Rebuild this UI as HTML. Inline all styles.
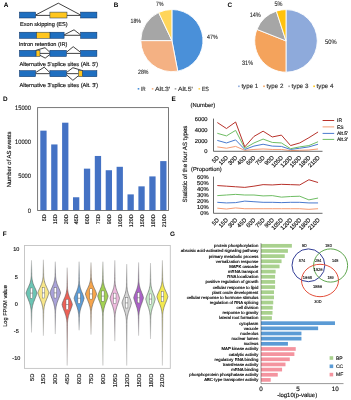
<!DOCTYPE html>
<html lang="en"><head><meta charset="utf-8"><title>Alternative splicing figure</title>
<style>
html,body{margin:0;padding:0;background:#fff;}
body{width:351px;height:400px;overflow:hidden;font-family:"Liberation Sans",sans-serif;}
svg{display:block;mix-blend-mode:multiply;}
svg text{font-family:"Liberation Sans",sans-serif;text-rendering:geometricPrecision;}
</style></head><body>
<svg width="351" height="400" viewBox="0 0 351 400">
<rect x="0" y="0" width="351" height="400" fill="#ffffff"/>
<g id="panelA">
<line x1="35.6" y1="15.4" x2="80.6" y2="15.4" stroke="#111" stroke-width="0.8"/>
<polyline points="35.6,15 58.3,3.2 80.6,15" fill="none" stroke="#111" stroke-width="0.8" stroke-linejoin="round"/>
<rect x="19.4" y="12.1" width="16.2" height="5.9" fill="#1f6fc0" stroke="#0d2f5e" stroke-width="0.5"/>
<rect x="49.9" y="12.1" width="17.1" height="5.9" fill="#ffc61e" stroke="#0d2f5e" stroke-width="0.5"/>
<rect x="80.6" y="12.1" width="16.3" height="5.9" fill="#1f6fc0" stroke="#0d2f5e" stroke-width="0.5"/>
<text x="20" y="26.2" font-size="5.6" text-anchor="start" font-weight="normal" fill="#111" stroke="#111" stroke-width="0.15">Exon skipping (ES)</text>
<line x1="64.1" y1="35.3" x2="80.6" y2="35.3" stroke="#111" stroke-width="0.8"/>
<polyline points="64.1,34.9 74,29.8 80.6,34.9" fill="none" stroke="#111" stroke-width="0.8" stroke-linejoin="round"/>
<rect x="19.4" y="32.2" width="17.1" height="6.2" fill="#1f6fc0" stroke="#0d2f5e" stroke-width="0.5"/>
<rect x="49.9" y="32.2" width="14.2" height="6.2" fill="#1f6fc0" stroke="#0d2f5e" stroke-width="0.5"/>
<rect x="36.5" y="32.2" width="13.4" height="6.2" fill="#ffc61e" stroke="#0d2f5e" stroke-width="0.5"/>
<rect x="80.6" y="32.2" width="16.3" height="6.2" fill="#1f6fc0" stroke="#0d2f5e" stroke-width="0.5"/>
<text x="18.8" y="46.3" font-size="5.6" text-anchor="start" font-weight="normal" fill="#111" stroke="#111" stroke-width="0.15">Intron retention (IR)</text>
<line x1="40" y1="53.4" x2="49.9" y2="53.4" stroke="#111" stroke-width="0.8"/>
<line x1="66.4" y1="53.4" x2="80.6" y2="53.4" stroke="#111" stroke-width="0.8"/>
<polyline points="36.1,50.3 45,47.7 49.9,52.3" fill="none" stroke="#111" stroke-width="0.8" stroke-linejoin="round"/>
<polyline points="40,55.3 45.2,58.1 49.9,54.5" fill="none" stroke="#111" stroke-width="0.8" stroke-linejoin="round"/>
<polyline points="66.4,52.3 73.2,46.7 80.6,52.3" fill="none" stroke="#111" stroke-width="0.8" stroke-linejoin="round"/>
<rect x="19.4" y="50.3" width="16.7" height="6.2" fill="#1f6fc0" stroke="#0d2f5e" stroke-width="0.5"/>
<rect x="36.1" y="50.3" width="3.9" height="6.2" fill="#ffc61e" stroke="#0d2f5e" stroke-width="0.5"/>
<rect x="49.9" y="50.3" width="16.5" height="6.2" fill="#1f6fc0" stroke="#0d2f5e" stroke-width="0.5"/>
<rect x="80.6" y="50.3" width="16.3" height="6.2" fill="#1f6fc0" stroke="#0d2f5e" stroke-width="0.5"/>
<text x="19.4" y="66.1" font-size="5.62" text-anchor="start" font-weight="normal" fill="#111" stroke="#111" stroke-width="0.15">Alternative 5'splice sites (Alt. 5')</text>
<line x1="35.6" y1="73.65" x2="49.9" y2="73.65" stroke="#111" stroke-width="0.8"/>
<line x1="66.4" y1="73.65" x2="78.5" y2="73.65" stroke="#111" stroke-width="0.8"/>
<polyline points="35.6,72.6 44.2,67.2 49.9,72.6" fill="none" stroke="#111" stroke-width="0.8" stroke-linejoin="round"/>
<polyline points="66.4,72.6 72.9,67.7 82.4,70.6" fill="none" stroke="#111" stroke-width="0.8" stroke-linejoin="round"/>
<polyline points="66.4,74.7 72.9,80.3 78.5,75.7" fill="none" stroke="#111" stroke-width="0.8" stroke-linejoin="round"/>
<rect x="19.4" y="70.6" width="16.2" height="6.1" fill="#1f6fc0" stroke="#0d2f5e" stroke-width="0.5"/>
<rect x="49.9" y="70.6" width="16.5" height="6.1" fill="#1f6fc0" stroke="#0d2f5e" stroke-width="0.5"/>
<rect x="82.4" y="70.6" width="14.5" height="6.1" fill="#1f6fc0" stroke="#0d2f5e" stroke-width="0.5"/>
<rect x="78.5" y="70.6" width="3.9" height="6.1" fill="#ffc61e" stroke="#0d2f5e" stroke-width="0.5"/>
<text x="19.4" y="86.9" font-size="5.62" text-anchor="start" font-weight="normal" fill="#111" stroke="#111" stroke-width="0.15">Alternative 3'splice sites (Alt. 3')</text>
</g>
<g id="panelB">
<path d="M171.9 40.6 L171.9 9.5 A31.1 31.1 0 0 1 177.73 71.15 Z" fill="#4a90d9" stroke="#fff" stroke-width="0.9" stroke-linejoin="round"/>
<path d="M171.9 40.6 L177.73 71.15 A31.1 31.1 0 0 1 140.8 40.6 Z" fill="#f4b183" stroke="#fff" stroke-width="0.9" stroke-linejoin="round"/>
<path d="M171.9 40.6 L140.8 40.6 A31.1 31.1 0 0 1 158.66 12.46 Z" fill="#a6a6a6" stroke="#fff" stroke-width="0.9" stroke-linejoin="round"/>
<path d="M171.9 40.6 L158.66 12.46 A31.1 31.1 0 0 1 171.9 9.5 Z" fill="#ffd55a" stroke="#fff" stroke-width="0.9" stroke-linejoin="round"/>
<text x="156.1" y="6.3" font-size="6.2" text-anchor="start" font-weight="normal" fill="#222" textLength="7.4" lengthAdjust="spacingAndGlyphs" stroke="#222" stroke-width="0.1">7%</text>
<text x="130.6" y="23.4" font-size="6.2" text-anchor="start" font-weight="normal" fill="#222" textLength="10.4" lengthAdjust="spacingAndGlyphs" stroke="#222" stroke-width="0.1">18%</text>
<text x="207" y="38.8" font-size="6.2" text-anchor="start" font-weight="normal" fill="#222" textLength="10.6" lengthAdjust="spacingAndGlyphs" stroke="#222" stroke-width="0.1">47%</text>
<text x="138" y="73.9" font-size="6.2" text-anchor="start" font-weight="normal" fill="#222" textLength="10.5" lengthAdjust="spacingAndGlyphs" stroke="#222" stroke-width="0.1">28%</text>
<rect x="137.7" y="88" width="1.6" height="1.6" fill="#4a90d9" stroke="none" stroke-width="0.5"/>
<text x="140.9" y="90.9" font-size="6" text-anchor="start" font-weight="normal" fill="#333" textLength="4.6" lengthAdjust="spacingAndGlyphs" stroke="#333" stroke-width="0.15">IR</text>
<rect x="151.8" y="88" width="1.6" height="1.6" fill="#f4b183" stroke="none" stroke-width="0.5"/>
<text x="155" y="90.9" font-size="6" text-anchor="start" font-weight="normal" fill="#333" textLength="15.2" lengthAdjust="spacingAndGlyphs" stroke="#333" stroke-width="0.15">Alt.3'</text>
<rect x="174.7" y="88" width="1.6" height="1.6" fill="#a6a6a6" stroke="none" stroke-width="0.5"/>
<text x="177.9" y="90.9" font-size="6" text-anchor="start" font-weight="normal" fill="#333" textLength="14.8" lengthAdjust="spacingAndGlyphs" stroke="#333" stroke-width="0.15">Alt.5'</text>
<rect x="198.5" y="88" width="1.6" height="1.6" fill="#ffd55a" stroke="none" stroke-width="0.5"/>
<text x="201.7" y="90.9" font-size="6" text-anchor="start" font-weight="normal" fill="#333" textLength="7.3" lengthAdjust="spacingAndGlyphs" stroke="#333" stroke-width="0.15">ES</text>
</g>
<g id="panelC">
<path d="M286 40.9 L286 9.6 A31.3 31.3 0 0 1 286 72.2 Z" fill="#8eaadb" stroke="#fff" stroke-width="0.9" stroke-linejoin="round"/>
<path d="M286 40.9 L286 72.2 A31.3 31.3 0 0 1 256.9 29.38 Z" fill="#f4a35c" stroke="#fff" stroke-width="0.9" stroke-linejoin="round"/>
<path d="M286 40.9 L256.9 29.38 A31.3 31.3 0 0 1 276.33 11.13 Z" fill="#a6a6a6" stroke="#fff" stroke-width="0.9" stroke-linejoin="round"/>
<path d="M286 40.9 L276.33 11.13 A31.3 31.3 0 0 1 286 9.6 Z" fill="#ffc20e" stroke="#fff" stroke-width="0.9" stroke-linejoin="round"/>
<text x="274.5" y="6.3" font-size="6.5" text-anchor="start" font-weight="normal" fill="#222" textLength="8" lengthAdjust="spacingAndGlyphs" stroke="#222" stroke-width="0.1">5%</text>
<text x="249.7" y="17.4" font-size="6.5" text-anchor="start" font-weight="normal" fill="#222" textLength="11.1" lengthAdjust="spacingAndGlyphs" stroke="#222" stroke-width="0.1">14%</text>
<text x="325.1" y="43.6" font-size="6.5" text-anchor="start" font-weight="normal" fill="#222" textLength="11.6" lengthAdjust="spacingAndGlyphs" stroke="#222" stroke-width="0.1">50%</text>
<text x="242" y="64.6" font-size="6.5" text-anchor="start" font-weight="normal" fill="#222" textLength="11.1" lengthAdjust="spacingAndGlyphs" stroke="#222" stroke-width="0.1">31%</text>
<rect x="238.1" y="85.5" width="1.6" height="1.6" fill="#8eaadb" stroke="none" stroke-width="0.5"/>
<text x="241.4" y="88.3" font-size="6.2" text-anchor="start" font-weight="normal" fill="#333" stroke="#333" stroke-width="0.15">type 1</text>
<rect x="263.2" y="85.5" width="1.6" height="1.6" fill="#f4a35c" stroke="none" stroke-width="0.5"/>
<text x="266.5" y="88.3" font-size="6.2" text-anchor="start" font-weight="normal" fill="#333" stroke="#333" stroke-width="0.15">type 2</text>
<rect x="288.3" y="85.5" width="1.6" height="1.6" fill="#a6a6a6" stroke="none" stroke-width="0.5"/>
<text x="291.6" y="88.3" font-size="6.2" text-anchor="start" font-weight="normal" fill="#333" stroke="#333" stroke-width="0.15">type 3</text>
<rect x="313.3" y="85.5" width="1.6" height="1.6" fill="#ffc20e" stroke="none" stroke-width="0.5"/>
<text x="316.6" y="88.3" font-size="6.2" text-anchor="start" font-weight="normal" fill="#333" stroke="#333" stroke-width="0.15">type 4</text>
</g>
<g id="panelD">
<rect x="40.3" y="130.65" width="6.3" height="79.85" fill="#4472c4" stroke="none" stroke-width="0.5"/>
<text x="45.75" y="214.4" font-size="5.4" text-anchor="end" font-weight="normal" fill="#111" transform="rotate(-90 45.75 214.4)" stroke="#111" stroke-width="0.15">5D</text>
<rect x="51.2" y="144.44" width="6.3" height="66.06" fill="#4472c4" stroke="none" stroke-width="0.5"/>
<text x="56.65" y="214.4" font-size="5.4" text-anchor="end" font-weight="normal" fill="#111" transform="rotate(-90 56.65 214.4)" stroke="#111" stroke-width="0.15">15D</text>
<rect x="62.1" y="122.69" width="6.3" height="87.81" fill="#4472c4" stroke="none" stroke-width="0.5"/>
<text x="67.55" y="214.4" font-size="5.4" text-anchor="end" font-weight="normal" fill="#111" transform="rotate(-90 67.55 214.4)" stroke="#111" stroke-width="0.15">30D</text>
<rect x="73" y="197.26" width="6.3" height="13.24" fill="#4472c4" stroke="none" stroke-width="0.5"/>
<text x="78.45" y="214.4" font-size="5.4" text-anchor="end" font-weight="normal" fill="#111" transform="rotate(-90 78.45 214.4)" stroke="#111" stroke-width="0.15">45D</text>
<rect x="83.9" y="168.65" width="6.3" height="41.85" fill="#4472c4" stroke="none" stroke-width="0.5"/>
<text x="89.35" y="214.4" font-size="5.4" text-anchor="end" font-weight="normal" fill="#111" transform="rotate(-90 89.35 214.4)" stroke="#111" stroke-width="0.15">60D</text>
<rect x="94.8" y="155.96" width="6.3" height="54.54" fill="#4472c4" stroke="none" stroke-width="0.5"/>
<text x="100.25" y="214.4" font-size="5.4" text-anchor="end" font-weight="normal" fill="#111" transform="rotate(-90 100.25 214.4)" stroke="#111" stroke-width="0.15">75D</text>
<rect x="105.7" y="170.23" width="6.3" height="40.27" fill="#4472c4" stroke="none" stroke-width="0.5"/>
<text x="111.15" y="214.4" font-size="5.4" text-anchor="end" font-weight="normal" fill="#111" transform="rotate(-90 111.15 214.4)" stroke="#111" stroke-width="0.15">90D</text>
<rect x="116.6" y="166.8" width="6.3" height="43.7" fill="#4472c4" stroke="none" stroke-width="0.5"/>
<text x="122.05" y="214.4" font-size="5.4" text-anchor="end" font-weight="normal" fill="#111" transform="rotate(-90 122.05 214.4)" stroke="#111" stroke-width="0.15">105D</text>
<rect x="127.5" y="194.38" width="6.3" height="16.12" fill="#4472c4" stroke="none" stroke-width="0.5"/>
<text x="132.95" y="214.4" font-size="5.4" text-anchor="end" font-weight="normal" fill="#111" transform="rotate(-90 132.95 214.4)" stroke="#111" stroke-width="0.15">120D</text>
<rect x="138.4" y="186.35" width="6.3" height="24.15" fill="#4472c4" stroke="none" stroke-width="0.5"/>
<text x="143.85" y="214.4" font-size="5.4" text-anchor="end" font-weight="normal" fill="#111" transform="rotate(-90 143.85 214.4)" stroke="#111" stroke-width="0.15">150D</text>
<rect x="149.3" y="176.41" width="6.3" height="34.09" fill="#4472c4" stroke="none" stroke-width="0.5"/>
<text x="154.75" y="214.4" font-size="5.4" text-anchor="end" font-weight="normal" fill="#111" transform="rotate(-90 154.75 214.4)" stroke="#111" stroke-width="0.15">180D</text>
<rect x="160.2" y="161.11" width="6.3" height="49.39" fill="#4472c4" stroke="none" stroke-width="0.5"/>
<text x="165.65" y="214.4" font-size="5.4" text-anchor="end" font-weight="normal" fill="#111" transform="rotate(-90 165.65 214.4)" stroke="#111" stroke-width="0.15">210D</text>
<rect x="37.6" y="107.6" width="130.9" height="102.9" fill="none" stroke="#6b6b6b" stroke-width="0.9"/>
<text x="27.8" y="212.75" font-size="6.4" text-anchor="start" font-weight="normal" fill="#111" textLength="3.2" lengthAdjust="spacingAndGlyphs" stroke="#111" stroke-width="0.1">0</text>
<text x="18.2" y="178.45" font-size="6.4" text-anchor="start" font-weight="normal" fill="#111" textLength="12.8" lengthAdjust="spacingAndGlyphs" stroke="#111" stroke-width="0.1">5000</text>
<text x="15" y="144.15" font-size="6.4" text-anchor="start" font-weight="normal" fill="#111" textLength="16" lengthAdjust="spacingAndGlyphs" stroke="#111" stroke-width="0.1">10000</text>
<text x="15" y="109.85" font-size="6.4" text-anchor="start" font-weight="normal" fill="#111" textLength="16" lengthAdjust="spacingAndGlyphs" stroke="#111" stroke-width="0.1">15000</text>
<text x="10.9" y="159.4" font-size="5.9" text-anchor="middle" font-weight="normal" fill="#111" transform="rotate(-90 10.9 159.4)" stroke="#111" stroke-width="0.15">Number of AS events</text>
</g>
<g id="panelE">
<text x="190.6" y="107.4" font-size="5.8" text-anchor="start" font-weight="normal" fill="#111" stroke="#111" stroke-width="0.15">(Number)</text>
<text x="207.6" y="153.35" font-size="5.8" text-anchor="end" font-weight="normal" fill="#111" stroke="#111" stroke-width="0.15">0</text>
<text x="207.6" y="142.73" font-size="5.8" text-anchor="end" font-weight="normal" fill="#111" stroke="#111" stroke-width="0.15">2000</text>
<text x="207.6" y="132.11" font-size="5.8" text-anchor="end" font-weight="normal" fill="#111" stroke="#111" stroke-width="0.15">4000</text>
<text x="207.6" y="121.49" font-size="5.8" text-anchor="end" font-weight="normal" fill="#111" stroke="#111" stroke-width="0.15">6000</text>
<polyline points="217.3,146.89 226.46,148.22 235.62,146.41 244.78,150.29 253.94,149.44 263.1,148.96 272.26,149.44 281.42,149.44 290.58,150.61 299.74,150.29 308.9,149.97 318.06,148.96" fill="none" stroke="#f59b73" stroke-width="1" stroke-linejoin="round"/>
<polyline points="217.3,140.41 226.46,142.96 235.62,139.88 244.78,149.44 253.94,146.1 263.1,144.24 272.26,146.1 281.42,146.41 290.58,149.44 299.74,148.22 308.9,146.89 318.06,144.24" fill="none" stroke="#4a7ace" stroke-width="1" stroke-linejoin="round"/>
<polyline points="217.3,133.3 226.46,135.9 235.62,130.38 244.78,148.22 253.94,142.96 263.1,139.09 272.26,142.43 281.42,142.96 290.58,148.7 299.74,146.89 308.9,145.57 318.06,141.74" fill="none" stroke="#6fbd64" stroke-width="1" stroke-linejoin="round"/>
<polyline points="217.3,122.52 226.46,128.52 235.62,121.99 244.78,146.89 253.94,136.43 263.1,131.18 272.26,136.96 281.42,135.1 290.58,145.57 299.74,142.96 308.9,137.71 318.06,131.97" fill="none" stroke="#b8322b" stroke-width="1" stroke-linejoin="round"/>
<line x1="213.5" y1="118.6" x2="213.5" y2="151.3" stroke="#4d4d4d" stroke-width="0.85"/>
<line x1="213.5" y1="151.3" x2="322.5" y2="151.3" stroke="#4d4d4d" stroke-width="0.85"/>
<text x="219.4" y="158" font-size="5.8" text-anchor="end" font-weight="normal" fill="#111" transform="rotate(-45 219.4 158)" stroke="#111" stroke-width="0.15">5D</text>
<text x="228.56" y="158" font-size="5.8" text-anchor="end" font-weight="normal" fill="#111" transform="rotate(-45 228.56 158)" stroke="#111" stroke-width="0.15">15D</text>
<text x="237.72" y="158" font-size="5.8" text-anchor="end" font-weight="normal" fill="#111" transform="rotate(-45 237.72 158)" stroke="#111" stroke-width="0.15">30D</text>
<text x="246.88" y="158" font-size="5.8" text-anchor="end" font-weight="normal" fill="#111" transform="rotate(-45 246.88 158)" stroke="#111" stroke-width="0.15">45D</text>
<text x="256.04" y="158" font-size="5.8" text-anchor="end" font-weight="normal" fill="#111" transform="rotate(-45 256.04 158)" stroke="#111" stroke-width="0.15">60D</text>
<text x="265.2" y="158" font-size="5.8" text-anchor="end" font-weight="normal" fill="#111" transform="rotate(-45 265.2 158)" stroke="#111" stroke-width="0.15">75D</text>
<text x="274.36" y="158" font-size="5.8" text-anchor="end" font-weight="normal" fill="#111" transform="rotate(-45 274.36 158)" stroke="#111" stroke-width="0.15">90D</text>
<text x="283.52" y="158" font-size="5.8" text-anchor="end" font-weight="normal" fill="#111" transform="rotate(-45 283.52 158)" stroke="#111" stroke-width="0.15">105D</text>
<text x="292.68" y="158" font-size="5.8" text-anchor="end" font-weight="normal" fill="#111" transform="rotate(-45 292.68 158)" stroke="#111" stroke-width="0.15">120D</text>
<text x="301.84" y="158" font-size="5.8" text-anchor="end" font-weight="normal" fill="#111" transform="rotate(-45 301.84 158)" stroke="#111" stroke-width="0.15">150D</text>
<text x="311" y="158" font-size="5.8" text-anchor="end" font-weight="normal" fill="#111" transform="rotate(-45 311 158)" stroke="#111" stroke-width="0.15">180D</text>
<text x="320.16" y="158" font-size="5.8" text-anchor="end" font-weight="normal" fill="#111" transform="rotate(-45 320.16 158)" stroke="#111" stroke-width="0.15">210D</text>
<line x1="322.6" y1="120.5" x2="334.2" y2="120.5" stroke="#b8322b" stroke-width="1"/>
<text x="337" y="122.25" font-size="5" text-anchor="start" font-weight="normal" fill="#111" stroke="#111" stroke-width="0.15">IR</text>
<line x1="322.6" y1="126.9" x2="334.2" y2="126.9" stroke="#f59b73" stroke-width="1"/>
<text x="337" y="128.65" font-size="5" text-anchor="start" font-weight="normal" fill="#111" stroke="#111" stroke-width="0.15">ES</text>
<line x1="322.6" y1="133.4" x2="334.2" y2="133.4" stroke="#4a7ace" stroke-width="1"/>
<text x="337" y="135.15" font-size="5" text-anchor="start" font-weight="normal" fill="#111" stroke="#111" stroke-width="0.15">Alt.5'</text>
<line x1="322.6" y1="139.4" x2="334.2" y2="139.4" stroke="#6fbd64" stroke-width="1"/>
<text x="337" y="141.15" font-size="5" text-anchor="start" font-weight="normal" fill="#111" stroke="#111" stroke-width="0.15">Alt.3'</text>
<text x="191" y="170.8" font-size="5.8" text-anchor="start" font-weight="normal" fill="#111" stroke="#111" stroke-width="0.15">(Proportion)</text>
<text x="208.7" y="215.35" font-size="5.8" text-anchor="end" font-weight="normal" fill="#111" stroke="#111" stroke-width="0.15">0%</text>
<text x="208.7" y="209.25" font-size="5.8" text-anchor="end" font-weight="normal" fill="#111" stroke="#111" stroke-width="0.15">10%</text>
<text x="208.7" y="203.15" font-size="5.8" text-anchor="end" font-weight="normal" fill="#111" stroke="#111" stroke-width="0.15">20%</text>
<text x="208.7" y="197.05" font-size="5.8" text-anchor="end" font-weight="normal" fill="#111" stroke="#111" stroke-width="0.15">30%</text>
<text x="208.7" y="190.95" font-size="5.8" text-anchor="end" font-weight="normal" fill="#111" stroke="#111" stroke-width="0.15">40%</text>
<text x="208.7" y="184.85" font-size="5.8" text-anchor="end" font-weight="normal" fill="#111" stroke="#111" stroke-width="0.15">50%</text>
<text x="208.7" y="178.75" font-size="5.8" text-anchor="end" font-weight="normal" fill="#111" stroke="#111" stroke-width="0.15">60%</text>
<polyline points="217.3,208.18 226.46,209.03 235.62,207.93 244.78,208.73 253.94,208.73 263.1,208.73 272.26,208.73 281.42,208.73 290.58,208.73 299.74,208.73 308.9,209.34 318.06,208.73" fill="none" stroke="#f59b73" stroke-width="1" stroke-linejoin="round"/>
<polyline points="217.3,202.32 226.46,202.93 235.62,202.62 244.78,201.1 253.94,201.71 263.1,202.32 272.26,202.32 281.42,202.62 290.58,202.32 299.74,202.32 308.9,202.93 318.06,202.93" fill="none" stroke="#4a7ace" stroke-width="1" stroke-linejoin="round"/>
<polyline points="217.3,195.61 226.46,195 235.62,194.39 244.78,195 253.94,195 263.1,195.92 272.26,195.61 281.42,197.14 290.58,196.53 299.74,196.22 308.9,199.88 318.06,198.05" fill="none" stroke="#6fbd64" stroke-width="1" stroke-linejoin="round"/>
<polyline points="217.3,185.55 226.46,186.16 235.62,186.77 244.78,187.38 253.94,186.16 263.1,184.63 272.26,184.94 281.42,184.33 290.58,184.63 299.74,184.94 308.9,179.75 318.06,182.5" fill="none" stroke="#b8322b" stroke-width="1" stroke-linejoin="round"/>
<line x1="213.5" y1="176.6" x2="213.5" y2="213.3" stroke="#4d4d4d" stroke-width="0.85"/>
<line x1="213.5" y1="213.3" x2="322.5" y2="213.3" stroke="#4d4d4d" stroke-width="0.85"/>
<text x="219.4" y="220.4" font-size="5.8" text-anchor="end" font-weight="normal" fill="#111" transform="rotate(-45 219.4 220.4)" stroke="#111" stroke-width="0.15">5D</text>
<text x="228.56" y="220.4" font-size="5.8" text-anchor="end" font-weight="normal" fill="#111" transform="rotate(-45 228.56 220.4)" stroke="#111" stroke-width="0.15">15D</text>
<text x="237.72" y="220.4" font-size="5.8" text-anchor="end" font-weight="normal" fill="#111" transform="rotate(-45 237.72 220.4)" stroke="#111" stroke-width="0.15">30D</text>
<text x="246.88" y="220.4" font-size="5.8" text-anchor="end" font-weight="normal" fill="#111" transform="rotate(-45 246.88 220.4)" stroke="#111" stroke-width="0.15">45D</text>
<text x="256.04" y="220.4" font-size="5.8" text-anchor="end" font-weight="normal" fill="#111" transform="rotate(-45 256.04 220.4)" stroke="#111" stroke-width="0.15">60D</text>
<text x="265.2" y="220.4" font-size="5.8" text-anchor="end" font-weight="normal" fill="#111" transform="rotate(-45 265.2 220.4)" stroke="#111" stroke-width="0.15">75D</text>
<text x="274.36" y="220.4" font-size="5.8" text-anchor="end" font-weight="normal" fill="#111" transform="rotate(-45 274.36 220.4)" stroke="#111" stroke-width="0.15">90D</text>
<text x="283.52" y="220.4" font-size="5.8" text-anchor="end" font-weight="normal" fill="#111" transform="rotate(-45 283.52 220.4)" stroke="#111" stroke-width="0.15">105D</text>
<text x="292.68" y="220.4" font-size="5.8" text-anchor="end" font-weight="normal" fill="#111" transform="rotate(-45 292.68 220.4)" stroke="#111" stroke-width="0.15">120D</text>
<text x="301.84" y="220.4" font-size="5.8" text-anchor="end" font-weight="normal" fill="#111" transform="rotate(-45 301.84 220.4)" stroke="#111" stroke-width="0.15">150D</text>
<text x="311" y="220.4" font-size="5.8" text-anchor="end" font-weight="normal" fill="#111" transform="rotate(-45 311 220.4)" stroke="#111" stroke-width="0.15">180D</text>
<text x="320.16" y="220.4" font-size="5.8" text-anchor="end" font-weight="normal" fill="#111" transform="rotate(-45 320.16 220.4)" stroke="#111" stroke-width="0.15">210D</text>
<text x="187" y="164" font-size="6.15" text-anchor="middle" font-weight="normal" fill="#111" transform="rotate(-90 187 164)" stroke="#111" stroke-width="0.15">Statistic of the four AS types</text>
</g>
<g id="panelF">
<defs>
<linearGradient id="vg0" gradientUnits="userSpaceOnUse" x1="0" y1="260.34" x2="0" y2="332.43"><stop offset="0" stop-color="#c4c4c4"/><stop offset="0.18" stop-color="#7a7a7a"/><stop offset="0.29" stop-color="#5a5a5a"/><stop offset="0.64" stop-color="#5a5a5a"/><stop offset="0.76" stop-color="#808080"/><stop offset="1" stop-color="#cacaca"/></linearGradient>
<linearGradient id="vg1" gradientUnits="userSpaceOnUse" x1="0" y1="259.8" x2="0" y2="335.68"><stop offset="0" stop-color="#c4c4c4"/><stop offset="0.18" stop-color="#7a7a7a"/><stop offset="0.28" stop-color="#5a5a5a"/><stop offset="0.61" stop-color="#5a5a5a"/><stop offset="0.72" stop-color="#808080"/><stop offset="1" stop-color="#cacaca"/></linearGradient>
<linearGradient id="vg2" gradientUnits="userSpaceOnUse" x1="0" y1="261.69" x2="0" y2="334.05"><stop offset="0" stop-color="#c4c4c4"/><stop offset="0.16" stop-color="#7a7a7a"/><stop offset="0.27" stop-color="#5a5a5a"/><stop offset="0.61" stop-color="#5a5a5a"/><stop offset="0.73" stop-color="#808080"/><stop offset="1" stop-color="#cacaca"/></linearGradient>
<linearGradient id="vg3" gradientUnits="userSpaceOnUse" x1="0" y1="267.66" x2="0" y2="365.49"><stop offset="0" stop-color="#c4c4c4"/><stop offset="0.18" stop-color="#7a7a7a"/><stop offset="0.25" stop-color="#5a5a5a"/><stop offset="0.51" stop-color="#5a5a5a"/><stop offset="0.6" stop-color="#808080"/><stop offset="1" stop-color="#cacaca"/></linearGradient>
<linearGradient id="vg4" gradientUnits="userSpaceOnUse" x1="0" y1="261.69" x2="0" y2="330.26"><stop offset="0" stop-color="#c4c4c4"/><stop offset="0.25" stop-color="#7a7a7a"/><stop offset="0.36" stop-color="#5a5a5a"/><stop offset="0.72" stop-color="#5a5a5a"/><stop offset="0.85" stop-color="#808080"/><stop offset="1" stop-color="#cacaca"/></linearGradient>
<linearGradient id="vg5" gradientUnits="userSpaceOnUse" x1="0" y1="262.51" x2="0" y2="334.59"><stop offset="0" stop-color="#c4c4c4"/><stop offset="0.17" stop-color="#7a7a7a"/><stop offset="0.27" stop-color="#5a5a5a"/><stop offset="0.62" stop-color="#5a5a5a"/><stop offset="0.74" stop-color="#808080"/><stop offset="1" stop-color="#cacaca"/></linearGradient>
<linearGradient id="vg6" gradientUnits="userSpaceOnUse" x1="0" y1="261.69" x2="0" y2="365.49"><stop offset="0" stop-color="#c4c4c4"/><stop offset="0.14" stop-color="#7a7a7a"/><stop offset="0.22" stop-color="#5a5a5a"/><stop offset="0.46" stop-color="#5a5a5a"/><stop offset="0.54" stop-color="#808080"/><stop offset="1" stop-color="#cacaca"/></linearGradient>
<linearGradient id="vg7" gradientUnits="userSpaceOnUse" x1="0" y1="260.34" x2="0" y2="341.1"><stop offset="0" stop-color="#c4c4c4"/><stop offset="0.23" stop-color="#7a7a7a"/><stop offset="0.32" stop-color="#5a5a5a"/><stop offset="0.63" stop-color="#5a5a5a"/><stop offset="0.74" stop-color="#808080"/><stop offset="1" stop-color="#cacaca"/></linearGradient>
<linearGradient id="vg8" gradientUnits="userSpaceOnUse" x1="0" y1="264.13" x2="0" y2="365.49"><stop offset="0" stop-color="#c4c4c4"/><stop offset="0.19" stop-color="#7a7a7a"/><stop offset="0.26" stop-color="#5a5a5a"/><stop offset="0.51" stop-color="#5a5a5a"/><stop offset="0.6" stop-color="#808080"/><stop offset="1" stop-color="#cacaca"/></linearGradient>
<linearGradient id="vg9" gradientUnits="userSpaceOnUse" x1="0" y1="262.51" x2="0" y2="335.68"><stop offset="0" stop-color="#c4c4c4"/><stop offset="0.21" stop-color="#7a7a7a"/><stop offset="0.32" stop-color="#5a5a5a"/><stop offset="0.66" stop-color="#5a5a5a"/><stop offset="0.78" stop-color="#808080"/><stop offset="1" stop-color="#cacaca"/></linearGradient>
<linearGradient id="vg10" gradientUnits="userSpaceOnUse" x1="0" y1="263.05" x2="0" y2="338.93"><stop offset="0" stop-color="#c4c4c4"/><stop offset="0.22" stop-color="#7a7a7a"/><stop offset="0.32" stop-color="#5a5a5a"/><stop offset="0.65" stop-color="#5a5a5a"/><stop offset="0.76" stop-color="#808080"/><stop offset="1" stop-color="#cacaca"/></linearGradient>
<linearGradient id="vg11" gradientUnits="userSpaceOnUse" x1="0" y1="260.34" x2="0" y2="365.49"><stop offset="0" stop-color="#c4c4c4"/><stop offset="0.16" stop-color="#7a7a7a"/><stop offset="0.23" stop-color="#5a5a5a"/><stop offset="0.47" stop-color="#5a5a5a"/><stop offset="0.55" stop-color="#808080"/><stop offset="1" stop-color="#cacaca"/></linearGradient>
</defs>
<polygon points="31.53,260.34 31.72,271.45 31.73,272.81 31.75,274.16 31.76,275.52 31.84,276.87 31.97,278.23 32.16,279.58 32.41,280.94 32.75,282.29 33.17,283.65 33.69,285 34.27,286.36 34.89,287.71 35.52,289.07 36.1,290.42 36.6,291.78 37,293.13 36.63,294.49 36.18,295.84 35.67,297.2 35.13,298.55 34.56,299.91 34.02,301.26 33.52,302.62 33.08,303.97 32.71,305.33 32.41,306.68 32.17,308.04 31.99,309.39 31.86,310.75 31.78,312.1 31.77,313.46 31.75,314.81 31.51,332.43 31.49,332.43 31.25,314.81 31.23,313.46 31.22,312.1 31.14,310.75 31.01,309.39 30.83,308.04 30.59,306.68 30.29,305.33 29.92,303.97 29.48,302.62 28.98,301.26 28.44,299.91 27.87,298.55 27.33,297.2 26.82,295.84 26.37,294.49 26,293.13 26.4,291.78 26.9,290.42 27.48,289.07 28.11,287.71 28.73,286.36 29.31,285 29.83,283.65 30.25,282.29 30.59,280.94 30.84,279.58 31.03,278.23 31.16,276.87 31.24,275.52 31.25,274.16 31.27,272.81 31.28,271.45 31.47,260.34" fill="#6cc4b4" stroke="url(#vg0)" stroke-width="0.6" stroke-linejoin="round"/>
<rect x="30.3" y="287.98" width="2.4" height="10.3" fill="#fff" stroke="#5a5a5a" stroke-width="0.4"/>
<line x1="30.3" y1="293.13" x2="32.7" y2="293.13" stroke="#444" stroke-width="0.45"/>
<text x="33.55" y="373.7" font-size="5.7" text-anchor="end" font-weight="normal" fill="#111" transform="rotate(-90 33.55 373.7)" stroke="#111" stroke-width="0.15">5D</text>
<polygon points="43.42,259.8 43.62,271.18 43.63,272.53 43.65,273.89 43.66,275.25 43.74,276.6 43.87,277.95 44.06,279.31 44.31,280.66 44.65,282.02 45.07,283.38 45.59,284.73 46.17,286.08 46.79,287.44 47.42,288.8 48,290.15 48.5,291.5 48.9,292.86 48.53,294.21 48.08,295.57 47.57,296.93 47.03,298.28 46.46,299.63 45.92,300.99 45.42,302.34 44.98,303.7 44.61,305.06 44.31,306.41 44.07,307.76 43.89,309.12 43.76,310.47 43.69,311.83 43.68,313.19 43.67,314.54 43.41,335.68 43.39,335.68 43.13,314.54 43.12,313.19 43.11,311.83 43.04,310.47 42.91,309.12 42.73,307.76 42.49,306.41 42.19,305.06 41.82,303.7 41.38,302.34 40.88,300.99 40.34,299.63 39.77,298.28 39.23,296.93 38.72,295.57 38.27,294.21 37.9,292.86 38.3,291.5 38.8,290.15 39.38,288.8 40.01,287.44 40.63,286.08 41.21,284.73 41.73,283.38 42.15,282.02 42.49,280.66 42.74,279.31 42.93,277.95 43.06,276.6 43.14,275.25 43.15,273.89 43.17,272.53 43.18,271.18 43.38,259.8" fill="#f7e68a" stroke="url(#vg1)" stroke-width="0.6" stroke-linejoin="round"/>
<rect x="42.2" y="287.71" width="2.4" height="10.3" fill="#fff" stroke="#5a5a5a" stroke-width="0.4"/>
<line x1="42.2" y1="292.86" x2="44.6" y2="292.86" stroke="#444" stroke-width="0.45"/>
<text x="45.45" y="373.7" font-size="5.7" text-anchor="end" font-weight="normal" fill="#111" transform="rotate(-90 45.45 373.7)" stroke="#111" stroke-width="0.15">15D</text>
<polygon points="55.33,261.69 55.49,271.18 55.51,272.53 55.53,273.89 55.55,275.25 55.63,276.6 55.76,277.95 55.94,279.31 56.18,280.66 56.5,282.02 56.91,283.38 57.41,284.73 57.97,286.08 58.57,287.44 59.17,288.8 59.73,290.15 60.22,291.5 60.6,292.86 60.24,294.21 59.81,295.57 59.32,296.93 58.79,298.28 58.25,299.63 57.73,300.99 57.25,302.34 56.82,303.7 56.46,305.06 56.17,306.41 55.95,307.76 55.77,309.12 55.65,310.47 55.57,311.83 55.56,313.19 55.55,314.54 55.31,334.05 55.29,334.05 55.05,314.54 55.04,313.19 55.03,311.83 54.95,310.47 54.83,309.12 54.65,307.76 54.43,306.41 54.14,305.06 53.78,303.7 53.35,302.34 52.87,300.99 52.35,299.63 51.81,298.28 51.28,296.93 50.79,295.57 50.36,294.21 50,292.86 50.38,291.5 50.87,290.15 51.43,288.8 52.03,287.44 52.63,286.08 53.19,284.73 53.69,283.38 54.1,282.02 54.42,280.66 54.66,279.31 54.84,277.95 54.97,276.6 55.05,275.25 55.07,273.89 55.09,272.53 55.11,271.18 55.27,261.69" fill="#a9a2d8" stroke="url(#vg2)" stroke-width="0.6" stroke-linejoin="round"/>
<rect x="54.1" y="287.71" width="2.4" height="10.3" fill="#fff" stroke="#5a5a5a" stroke-width="0.4"/>
<line x1="54.1" y1="292.86" x2="56.5" y2="292.86" stroke="#444" stroke-width="0.45"/>
<text x="57.35" y="373.7" font-size="5.7" text-anchor="end" font-weight="normal" fill="#111" transform="rotate(-90 57.35 373.7)" stroke="#111" stroke-width="0.15">30D</text>
<polygon points="67.21,267.66 67.43,282.83 67.44,284.19 67.45,285.54 67.46,286.9 67.53,288.25 67.65,289.61 67.82,290.96 68.06,292.32 68.38,293.67 68.78,295.03 69.27,296.38 69.82,297.74 70.41,299.09 71,300.45 71.55,301.8 72.02,303.16 72.4,304.51 72.05,305.87 71.63,307.22 71.15,308.58 70.63,309.93 70.1,311.29 69.58,312.64 69.11,314 68.69,315.35 68.34,316.71 68.06,318.06 67.83,319.42 67.67,320.77 67.54,322.13 67.51,323.48 67.51,324.84 67.5,326.19 67.2,365.49 67.2,365.49 66.9,326.19 66.89,324.84 66.89,323.48 66.86,322.13 66.73,320.77 66.57,319.42 66.34,318.06 66.06,316.71 65.71,315.35 65.29,314 64.82,312.64 64.3,311.29 63.77,309.93 63.25,308.58 62.77,307.22 62.35,305.87 62,304.51 62.38,303.16 62.85,301.8 63.4,300.45 63.99,299.09 64.58,297.74 65.13,296.38 65.62,295.03 66.02,293.67 66.34,292.32 66.58,290.96 66.75,289.61 66.87,288.25 66.94,286.9 66.95,285.54 66.96,284.19 66.97,282.83 67.19,267.66" fill="#ec6156" stroke="url(#vg3)" stroke-width="0.6" stroke-linejoin="round"/>
<rect x="66" y="299.36" width="2.4" height="10.3" fill="#fff" stroke="#5a5a5a" stroke-width="0.4"/>
<line x1="66" y1="304.51" x2="68.4" y2="304.51" stroke="#444" stroke-width="0.45"/>
<text x="69.25" y="373.7" font-size="5.7" text-anchor="end" font-weight="normal" fill="#111" transform="rotate(-90 69.25 373.7)" stroke="#111" stroke-width="0.15">45D</text>
<polygon points="79.11,261.69 79.32,276.6 79.33,277.95 79.34,279.31 79.35,280.66 79.41,282.02 79.53,283.38 79.7,284.73 79.93,286.08 80.24,287.44 80.62,288.8 81.09,290.15 81.62,291.5 82.18,292.86 82.75,294.21 83.28,295.57 83.74,296.93 84.1,298.28 83.76,299.63 83.36,300.99 82.9,302.34 82.4,303.7 81.89,305.06 81.39,306.41 80.94,307.76 80.54,309.12 80.2,310.47 79.92,311.83 79.71,313.19 79.55,314.54 79.43,315.89 79.34,317.25 79.3,318.6 79.29,319.96 79.13,330.26 79.07,330.26 78.91,319.96 78.9,318.6 78.86,317.25 78.77,315.89 78.65,314.54 78.49,313.19 78.28,311.83 78,310.47 77.66,309.12 77.26,307.76 76.81,306.41 76.31,305.06 75.8,303.7 75.3,302.34 74.84,300.99 74.44,299.63 74.1,298.28 74.46,296.93 74.92,295.57 75.45,294.21 76.02,292.86 76.58,291.5 77.11,290.15 77.58,288.8 77.96,287.44 78.27,286.08 78.5,284.73 78.67,283.38 78.79,282.02 78.85,280.66 78.86,279.31 78.87,277.95 78.88,276.6 79.09,261.69" fill="#5c9dd8" stroke="url(#vg4)" stroke-width="0.6" stroke-linejoin="round"/>
<rect x="77.9" y="293.13" width="2.4" height="10.3" fill="#fff" stroke="#5a5a5a" stroke-width="0.4"/>
<line x1="77.9" y1="298.28" x2="80.3" y2="298.28" stroke="#444" stroke-width="0.45"/>
<text x="81.15" y="373.7" font-size="5.7" text-anchor="end" font-weight="normal" fill="#111" transform="rotate(-90 81.15 373.7)" stroke="#111" stroke-width="0.15">60D</text>
<polygon points="91.03,262.51 91.21,272.26 91.23,273.62 91.24,274.97 91.26,276.33 91.35,277.68 91.48,279.04 91.67,280.39 91.93,281.75 92.27,283.1 92.71,284.46 93.23,285.81 93.82,287.17 94.45,288.52 95.09,289.88 95.68,291.23 96.19,292.59 96.6,293.94 96.22,295.3 95.77,296.65 95.25,298.01 94.69,299.36 94.12,300.72 93.57,302.07 93.06,303.43 92.61,304.78 92.23,306.14 91.92,307.49 91.68,308.85 91.5,310.2 91.37,311.56 91.29,312.91 91.28,314.27 91.27,315.62 91.01,334.59 90.99,334.59 90.73,315.62 90.72,314.27 90.71,312.91 90.63,311.56 90.5,310.2 90.32,308.85 90.08,307.49 89.77,306.14 89.39,304.78 88.94,303.43 88.43,302.07 87.88,300.72 87.31,299.36 86.75,298.01 86.23,296.65 85.78,295.3 85.4,293.94 85.81,292.59 86.32,291.23 86.91,289.88 87.55,288.52 88.18,287.17 88.77,285.81 89.29,284.46 89.73,283.1 90.07,281.75 90.33,280.39 90.52,279.04 90.65,277.68 90.74,276.33 90.76,274.97 90.77,273.62 90.79,272.26 90.97,262.51" fill="#f6a54c" stroke="url(#vg5)" stroke-width="0.6" stroke-linejoin="round"/>
<rect x="89.8" y="288.8" width="2.4" height="10.3" fill="#fff" stroke="#5a5a5a" stroke-width="0.4"/>
<line x1="89.8" y1="293.94" x2="92.2" y2="293.94" stroke="#444" stroke-width="0.45"/>
<text x="93.05" y="373.7" font-size="5.7" text-anchor="end" font-weight="normal" fill="#111" transform="rotate(-90 93.05 373.7)" stroke="#111" stroke-width="0.15">75D</text>
<polygon points="102.92,261.69 103.11,274.43 103.13,275.79 103.14,277.14 103.15,278.5 103.23,279.85 103.35,281.21 103.52,282.56 103.76,283.92 104.08,285.27 104.48,286.63 104.97,287.98 105.52,289.34 106.11,290.69 106.7,292.05 107.25,293.4 107.72,294.76 108.1,296.11 107.75,297.47 107.33,298.82 106.85,300.18 106.33,301.53 105.8,302.89 105.28,304.24 104.81,305.6 104.39,306.95 104.04,308.31 103.76,309.66 103.53,311.02 103.37,312.37 103.24,313.73 103.22,315.08 103.22,316.44 103.21,317.79 102.9,365.49 102.9,365.49 102.59,317.79 102.58,316.44 102.58,315.08 102.56,313.73 102.43,312.37 102.27,311.02 102.04,309.66 101.76,308.31 101.41,306.95 100.99,305.6 100.52,304.24 100,302.89 99.47,301.53 98.95,300.18 98.47,298.82 98.05,297.47 97.7,296.11 98.08,294.76 98.55,293.4 99.1,292.05 99.69,290.69 100.28,289.34 100.83,287.98 101.32,286.63 101.72,285.27 102.04,283.92 102.28,282.56 102.45,281.21 102.57,279.85 102.65,278.5 102.66,277.14 102.67,275.79 102.69,274.43 102.88,261.69" fill="#a2d152" stroke="url(#vg6)" stroke-width="0.6" stroke-linejoin="round"/>
<rect x="101.7" y="290.96" width="2.4" height="10.3" fill="#fff" stroke="#5a5a5a" stroke-width="0.4"/>
<line x1="101.7" y1="296.11" x2="104.1" y2="296.11" stroke="#444" stroke-width="0.45"/>
<text x="104.95" y="373.7" font-size="5.7" text-anchor="end" font-weight="normal" fill="#111" transform="rotate(-90 104.95 373.7)" stroke="#111" stroke-width="0.15">90D</text>
<polygon points="114.81,260.34 115.01,276.6 115.02,277.95 115.03,279.31 115.04,280.66 115.09,282.02 115.21,283.38 115.36,284.73 115.58,286.08 115.87,287.44 116.23,288.8 116.67,290.15 117.17,291.5 117.7,292.86 118.23,294.21 118.73,295.57 119.16,296.93 119.5,298.28 119.18,299.63 118.8,300.99 118.37,302.34 117.9,303.7 117.42,305.06 116.95,306.41 116.53,307.76 116.15,309.12 115.83,310.47 115.57,311.83 115.37,313.19 115.22,314.54 115.11,315.89 115.05,317.25 115.04,318.6 115.03,319.96 114.81,341.1 114.79,341.1 114.57,319.96 114.56,318.6 114.55,317.25 114.49,315.89 114.38,314.54 114.23,313.19 114.03,311.83 113.77,310.47 113.45,309.12 113.07,307.76 112.65,306.41 112.18,305.06 111.7,303.7 111.23,302.34 110.8,300.99 110.42,299.63 110.1,298.28 110.44,296.93 110.87,295.57 111.37,294.21 111.9,292.86 112.43,291.5 112.93,290.15 113.37,288.8 113.73,287.44 114.02,286.08 114.24,284.73 114.39,283.38 114.51,282.02 114.56,280.66 114.57,279.31 114.58,277.95 114.59,276.6 114.79,260.34" fill="#ecb9dc" stroke="url(#vg7)" stroke-width="0.6" stroke-linejoin="round"/>
<rect x="113.6" y="293.13" width="2.4" height="10.3" fill="#fff" stroke="#5a5a5a" stroke-width="0.4"/>
<line x1="113.6" y1="298.28" x2="116" y2="298.28" stroke="#444" stroke-width="0.45"/>
<text x="116.85" y="373.7" font-size="5.7" text-anchor="end" font-weight="normal" fill="#111" transform="rotate(-90 116.85 373.7)" stroke="#111" stroke-width="0.15">105D</text>
<polygon points="126.71,264.13 126.92,281.21 126.93,282.56 126.94,283.92 126.95,285.27 126.99,286.63 127.11,287.98 127.26,289.34 127.48,290.69 127.77,292.05 128.13,293.4 128.57,294.76 129.07,296.11 129.6,297.47 130.13,298.82 130.63,300.18 131.06,301.53 131.4,302.89 131.08,304.24 130.7,305.6 130.27,306.95 129.8,308.31 129.32,309.66 128.85,311.02 128.43,312.37 128.05,313.73 127.73,315.08 127.47,316.44 127.27,317.79 127.12,319.15 127.01,320.5 126.98,321.86 126.98,323.21 126.97,324.57 126.7,365.49 126.7,365.49 126.43,324.57 126.42,323.21 126.42,321.86 126.39,320.5 126.28,319.15 126.13,317.79 125.93,316.44 125.67,315.08 125.35,313.73 124.97,312.37 124.55,311.02 124.08,309.66 123.6,308.31 123.13,306.95 122.7,305.6 122.32,304.24 122,302.89 122.34,301.53 122.77,300.18 123.27,298.82 123.8,297.47 124.33,296.11 124.83,294.76 125.27,293.4 125.63,292.05 125.92,290.69 126.14,289.34 126.29,287.98 126.41,286.63 126.45,285.27 126.46,283.92 126.47,282.56 126.48,281.21 126.69,264.13" fill="#d4d4d4" stroke="url(#vg8)" stroke-width="0.6" stroke-linejoin="round"/>
<rect x="125.5" y="297.74" width="2.4" height="10.3" fill="#fff" stroke="#5a5a5a" stroke-width="0.4"/>
<line x1="125.5" y1="302.89" x2="127.9" y2="302.89" stroke="#444" stroke-width="0.45"/>
<text x="128.75" y="373.7" font-size="5.7" text-anchor="end" font-weight="normal" fill="#111" transform="rotate(-90 128.75 373.7)" stroke="#111" stroke-width="0.15">120D</text>
<polygon points="138.62,262.51 138.81,276.06 138.82,277.41 138.83,278.77 138.84,280.12 138.91,281.48 139.02,282.83 139.19,284.19 139.41,285.54 139.71,286.9 140.09,288.25 140.55,289.61 141.07,290.96 141.62,292.32 142.18,293.67 142.7,295.03 143.15,296.38 143.5,297.74 143.17,299.09 142.77,300.45 142.32,301.8 141.83,303.16 141.33,304.51 140.85,305.87 140.4,307.22 140.01,308.58 139.68,309.93 139.41,311.29 139.2,312.64 139.04,314 138.92,315.35 138.84,316.71 138.83,318.06 138.82,319.42 138.61,335.68 138.59,335.68 138.38,319.42 138.37,318.06 138.36,316.71 138.28,315.35 138.16,314 138,312.64 137.79,311.29 137.52,309.93 137.19,308.58 136.8,307.22 136.35,305.87 135.87,304.51 135.37,303.16 134.88,301.8 134.43,300.45 134.03,299.09 133.7,297.74 134.05,296.38 134.5,295.03 135.02,293.67 135.58,292.32 136.13,290.96 136.65,289.61 137.11,288.25 137.49,286.9 137.79,285.54 138.01,284.19 138.18,282.83 138.29,281.48 138.36,280.12 138.37,278.77 138.38,277.41 138.39,276.06 138.58,262.51" fill="#aa62c6" stroke="url(#vg9)" stroke-width="0.6" stroke-linejoin="round"/>
<rect x="137.4" y="292.59" width="2.4" height="10.3" fill="#fff" stroke="#5a5a5a" stroke-width="0.4"/>
<line x1="137.4" y1="297.74" x2="139.8" y2="297.74" stroke="#444" stroke-width="0.45"/>
<text x="140.65" y="373.7" font-size="5.7" text-anchor="end" font-weight="normal" fill="#111" transform="rotate(-90 140.65 373.7)" stroke="#111" stroke-width="0.15">150D</text>
<polygon points="150.51,263.05 150.7,277.41 150.71,278.77 150.73,280.12 150.74,281.48 150.79,282.83 150.91,284.19 151.06,285.54 151.28,286.9 151.57,288.25 151.93,289.61 152.37,290.96 152.87,292.32 153.4,293.67 153.93,295.03 154.43,296.38 154.86,297.74 155.2,299.09 154.88,300.45 154.5,301.8 154.07,303.16 153.6,304.51 153.12,305.87 152.65,307.22 152.23,308.58 151.85,309.93 151.53,311.29 151.27,312.64 151.07,314 150.92,315.35 150.81,316.71 150.74,318.06 150.73,319.42 150.72,320.77 150.51,338.93 150.49,338.93 150.28,320.77 150.27,319.42 150.26,318.06 150.19,316.71 150.08,315.35 149.93,314 149.73,312.64 149.47,311.29 149.15,309.93 148.77,308.58 148.35,307.22 147.88,305.87 147.4,304.51 146.93,303.16 146.5,301.8 146.12,300.45 145.8,299.09 146.14,297.74 146.57,296.38 147.07,295.03 147.6,293.67 148.13,292.32 148.63,290.96 149.07,289.61 149.43,288.25 149.72,286.9 149.94,285.54 150.09,284.19 150.21,282.83 150.26,281.48 150.27,280.12 150.29,278.77 150.3,277.41 150.49,263.05" fill="#c4e7c6" stroke="url(#vg10)" stroke-width="0.6" stroke-linejoin="round"/>
<rect x="149.3" y="293.94" width="2.4" height="10.3" fill="#fff" stroke="#5a5a5a" stroke-width="0.4"/>
<line x1="149.3" y1="299.09" x2="151.7" y2="299.09" stroke="#444" stroke-width="0.45"/>
<text x="152.55" y="373.7" font-size="5.7" text-anchor="end" font-weight="normal" fill="#111" transform="rotate(-90 152.55 373.7)" stroke="#111" stroke-width="0.15">180D</text>
<polygon points="162.42,260.34 162.64,274.97 162.65,276.33 162.66,277.68 162.68,279.04 162.74,280.39 162.87,281.75 163.06,283.1 163.31,284.46 163.65,285.81 164.07,287.17 164.59,288.52 165.17,289.88 165.79,291.23 166.42,292.59 167,293.94 167.5,295.3 167.9,296.65 167.53,298.01 167.08,299.36 166.57,300.72 166.03,302.07 165.46,303.43 164.92,304.78 164.42,306.14 163.98,307.49 163.61,308.85 163.31,310.2 163.07,311.56 162.89,312.91 162.76,314.27 162.74,315.62 162.73,316.98 162.73,318.33 162.4,365.49 162.4,365.49 162.07,318.33 162.07,316.98 162.06,315.62 162.04,314.27 161.91,312.91 161.73,311.56 161.49,310.2 161.19,308.85 160.82,307.49 160.38,306.14 159.88,304.78 159.34,303.43 158.77,302.07 158.23,300.72 157.72,299.36 157.27,298.01 156.9,296.65 157.3,295.3 157.8,293.94 158.38,292.59 159.01,291.23 159.63,289.88 160.21,288.52 160.73,287.17 161.15,285.81 161.49,284.46 161.74,283.1 161.93,281.75 162.06,280.39 162.12,279.04 162.14,277.68 162.15,276.33 162.16,274.97 162.38,260.34" fill="#f2e850" stroke="url(#vg11)" stroke-width="0.6" stroke-linejoin="round"/>
<rect x="161.2" y="291.5" width="2.4" height="10.3" fill="#fff" stroke="#5a5a5a" stroke-width="0.4"/>
<line x1="161.2" y1="296.65" x2="163.6" y2="296.65" stroke="#444" stroke-width="0.45"/>
<text x="164.45" y="373.7" font-size="5.7" text-anchor="end" font-weight="normal" fill="#111" transform="rotate(-90 164.45 373.7)" stroke="#111" stroke-width="0.15">210D</text>
<rect x="24.5" y="245.5" width="145.8" height="122.9" fill="none" stroke="#c2c2c2" stroke-width="0.9"/>
<text x="16.3" y="251.45" font-size="5.5" text-anchor="middle" font-weight="normal" fill="#111" stroke="#111" stroke-width="0.15">10</text>
<text x="16.3" y="278.55" font-size="5.5" text-anchor="middle" font-weight="normal" fill="#111" stroke="#111" stroke-width="0.15">5</text>
<text x="16.3" y="305.65" font-size="5.5" text-anchor="middle" font-weight="normal" fill="#111" stroke="#111" stroke-width="0.15">0</text>
<text x="16.3" y="332.75" font-size="5.5" text-anchor="middle" font-weight="normal" fill="#111" stroke="#111" stroke-width="0.15">-5</text>
<text x="16.3" y="359.85" font-size="5.5" text-anchor="middle" font-weight="normal" fill="#111" stroke="#111" stroke-width="0.15">-10</text>
<text x="7.4" y="306" font-size="5.65" text-anchor="middle" font-weight="normal" fill="#111" transform="rotate(-90 7.4 306)" stroke="#111" stroke-width="0.15">Log FPKM value</text>
</g>
<g id="panelG">
<rect x="261" y="243.95" width="30.87" height="3.7" fill="#a9d18e" stroke="none" stroke-width="0.5"/>
<text x="258.3" y="247.25" font-size="4.25" text-anchor="end" font-weight="normal" fill="#000" stroke="#000" stroke-width="0.15">protein phosphorylation</text>
<rect x="261" y="249.11" width="26.93" height="3.7" fill="#a9d18e" stroke="none" stroke-width="0.5"/>
<text x="258.3" y="252.41" font-size="4.25" text-anchor="end" font-weight="normal" fill="#000" stroke="#000" stroke-width="0.15">abscisic acid-activated signaling pathway</text>
<rect x="261" y="254.27" width="23.74" height="3.7" fill="#a9d18e" stroke="none" stroke-width="0.5"/>
<text x="258.3" y="257.57" font-size="4.25" text-anchor="end" font-weight="normal" fill="#000" stroke="#000" stroke-width="0.15">primary metabolic process</text>
<rect x="261" y="259.42" width="20.55" height="3.7" fill="#a9d18e" stroke="none" stroke-width="0.5"/>
<text x="258.3" y="262.72" font-size="4.25" text-anchor="end" font-weight="normal" fill="#000" stroke="#000" stroke-width="0.15">vernalization response</text>
<rect x="261" y="264.58" width="18.55" height="3.7" fill="#a9d18e" stroke="none" stroke-width="0.5"/>
<text x="258.3" y="267.88" font-size="4.25" text-anchor="end" font-weight="normal" fill="#000" stroke="#000" stroke-width="0.15">MAPK cascade</text>
<rect x="261" y="269.74" width="14.62" height="3.7" fill="#a9d18e" stroke="none" stroke-width="0.5"/>
<text x="258.3" y="273.04" font-size="4.25" text-anchor="end" font-weight="normal" fill="#000" stroke="#000" stroke-width="0.15">mRNA transport</text>
<rect x="261" y="274.9" width="14.1" height="3.7" fill="#a9d18e" stroke="none" stroke-width="0.5"/>
<text x="258.3" y="278.2" font-size="4.25" text-anchor="end" font-weight="normal" fill="#000" stroke="#000" stroke-width="0.15">RNA localization</text>
<rect x="261" y="280.06" width="14.1" height="3.7" fill="#a9d18e" stroke="none" stroke-width="0.5"/>
<text x="258.3" y="283.36" font-size="4.25" text-anchor="end" font-weight="normal" fill="#000" stroke="#000" stroke-width="0.15">positive regulation of growth</text>
<rect x="261" y="285.21" width="14.1" height="3.7" fill="#a9d18e" stroke="none" stroke-width="0.5"/>
<text x="258.3" y="288.51" font-size="4.25" text-anchor="end" font-weight="normal" fill="#000" stroke="#000" stroke-width="0.15">cellular response to lipid</text>
<rect x="261" y="290.37" width="12.98" height="3.7" fill="#a9d18e" stroke="none" stroke-width="0.5"/>
<text x="258.3" y="293.67" font-size="4.25" text-anchor="end" font-weight="normal" fill="#000" stroke="#000" stroke-width="0.15">plant ovule development</text>
<rect x="261" y="295.53" width="12.98" height="3.7" fill="#a9d18e" stroke="none" stroke-width="0.5"/>
<text x="258.3" y="298.83" font-size="4.25" text-anchor="end" font-weight="normal" fill="#000" stroke="#000" stroke-width="0.15">cellular response to hormone stimulus</text>
<rect x="261" y="300.69" width="12.24" height="3.7" fill="#a9d18e" stroke="none" stroke-width="0.5"/>
<text x="258.3" y="303.99" font-size="4.25" text-anchor="end" font-weight="normal" fill="#000" stroke="#000" stroke-width="0.15">regulation of RNA splicing</text>
<rect x="261" y="305.85" width="11.72" height="3.7" fill="#a9d18e" stroke="none" stroke-width="0.5"/>
<text x="258.3" y="309.15" font-size="4.25" text-anchor="end" font-weight="normal" fill="#000" stroke="#000" stroke-width="0.15">cell division</text>
<rect x="261" y="311" width="11.5" height="3.7" fill="#a9d18e" stroke="none" stroke-width="0.5"/>
<text x="258.3" y="314.3" font-size="4.25" text-anchor="end" font-weight="normal" fill="#000" stroke="#000" stroke-width="0.15">response to gravity</text>
<rect x="261" y="316.16" width="10.91" height="3.7" fill="#a9d18e" stroke="none" stroke-width="0.5"/>
<text x="258.3" y="319.46" font-size="4.25" text-anchor="end" font-weight="normal" fill="#000" stroke="#000" stroke-width="0.15">lateral root formation</text>
<rect x="261" y="321.32" width="73.98" height="3.7" fill="#5b9bd5" stroke="none" stroke-width="0.5"/>
<text x="258.3" y="324.62" font-size="4.25" text-anchor="end" font-weight="normal" fill="#000" stroke="#000" stroke-width="0.15">cytoplasm</text>
<rect x="261" y="326.48" width="57.13" height="3.7" fill="#5b9bd5" stroke="none" stroke-width="0.5"/>
<text x="258.3" y="329.78" font-size="4.25" text-anchor="end" font-weight="normal" fill="#000" stroke="#000" stroke-width="0.15">vacuole</text>
<rect x="261" y="331.64" width="40.44" height="3.7" fill="#5b9bd5" stroke="none" stroke-width="0.5"/>
<text x="258.3" y="334.94" font-size="4.25" text-anchor="end" font-weight="normal" fill="#000" stroke="#000" stroke-width="0.15">nucleolus</text>
<rect x="261" y="336.79" width="40.44" height="3.7" fill="#5b9bd5" stroke="none" stroke-width="0.5"/>
<text x="258.3" y="340.09" font-size="4.25" text-anchor="end" font-weight="normal" fill="#000" stroke="#000" stroke-width="0.15">nuclear lumen</text>
<rect x="261" y="341.95" width="26.93" height="3.7" fill="#5b9bd5" stroke="none" stroke-width="0.5"/>
<text x="258.3" y="345.25" font-size="4.25" text-anchor="end" font-weight="normal" fill="#000" stroke="#000" stroke-width="0.15">nucleus</text>
<rect x="261" y="347.11" width="34.73" height="3.7" fill="#f4949f" stroke="none" stroke-width="0.5"/>
<text x="258.3" y="350.41" font-size="4.25" text-anchor="end" font-weight="normal" fill="#000" stroke="#000" stroke-width="0.15">MAP kinase activity</text>
<rect x="261" y="352.27" width="33.39" height="3.7" fill="#f4949f" stroke="none" stroke-width="0.5"/>
<text x="258.3" y="355.57" font-size="4.25" text-anchor="end" font-weight="normal" fill="#000" stroke="#000" stroke-width="0.15">catalytic activity</text>
<rect x="261" y="357.43" width="28.79" height="3.7" fill="#f4949f" stroke="none" stroke-width="0.5"/>
<text x="258.3" y="360.73" font-size="4.25" text-anchor="end" font-weight="normal" fill="#000" stroke="#000" stroke-width="0.15">regulatory RNA binding</text>
<rect x="261" y="362.58" width="24.49" height="3.7" fill="#f4949f" stroke="none" stroke-width="0.5"/>
<text x="258.3" y="365.88" font-size="4.25" text-anchor="end" font-weight="normal" fill="#000" stroke="#000" stroke-width="0.15">transferase activity</text>
<rect x="261" y="367.74" width="21.07" height="3.7" fill="#f4949f" stroke="none" stroke-width="0.5"/>
<text x="258.3" y="371.04" font-size="4.25" text-anchor="end" font-weight="normal" fill="#000" stroke="#000" stroke-width="0.15">mRNA binding</text>
<rect x="261" y="372.9" width="16.77" height="3.7" fill="#f4949f" stroke="none" stroke-width="0.5"/>
<text x="258.3" y="376.2" font-size="4.25" text-anchor="end" font-weight="normal" fill="#000" stroke="#000" stroke-width="0.15">phosphoprotein phosphatase activity</text>
<rect x="261" y="378.06" width="9.72" height="3.7" fill="#f4949f" stroke="none" stroke-width="0.5"/>
<text x="258.3" y="381.36" font-size="4.25" text-anchor="end" font-weight="normal" fill="#000" stroke="#000" stroke-width="0.15">ABC-type transporter activity</text>
<line x1="261" y1="243.2" x2="261" y2="383.6" stroke="#333" stroke-width="0.5"/>
<line x1="261" y1="383.6" x2="343.5" y2="383.6" stroke="#333" stroke-width="0.5"/>
<text x="261" y="390.5" font-size="6.3" text-anchor="middle" font-weight="normal" fill="#111" stroke="#111" stroke-width="0.15">0</text>
<text x="298.1" y="390.5" font-size="6.3" text-anchor="middle" font-weight="normal" fill="#111" stroke="#111" stroke-width="0.15">5</text>
<text x="335.2" y="390.5" font-size="6.3" text-anchor="middle" font-weight="normal" fill="#111" stroke="#111" stroke-width="0.15">10</text>
<text x="297.2" y="396.7" font-size="5.95" text-anchor="middle" font-weight="normal" fill="#111" stroke="#111" stroke-width="0.15">-log10(p-value)</text>
<rect x="329.6" y="356.2" width="3.6" height="3.6" fill="#a9d18e" stroke="none" stroke-width="0.5"/>
<text x="336" y="359.8" font-size="5" text-anchor="start" font-weight="normal" fill="#222" stroke="#222" stroke-width="0.15">BP</text>
<rect x="329.6" y="364.5" width="3.6" height="3.6" fill="#5b9bd5" stroke="none" stroke-width="0.5"/>
<text x="336" y="368.1" font-size="5" text-anchor="start" font-weight="normal" fill="#222" stroke="#222" stroke-width="0.15">CC</text>
<rect x="329.6" y="372.8" width="3.6" height="3.6" fill="#f4949f" stroke="none" stroke-width="0.5"/>
<text x="336" y="376.4" font-size="5" text-anchor="start" font-weight="normal" fill="#222" stroke="#222" stroke-width="0.15">MF</text>
<ellipse cx="308.4" cy="265.3" rx="16.4" ry="16.4" fill="none" stroke="#27338f" stroke-width="0.95"/>
<ellipse cx="330.6" cy="265.5" rx="17.0" ry="16.6" fill="none" stroke="#55a045" stroke-width="0.95"/>
<ellipse cx="320.0" cy="280.5" rx="18.5" ry="16.2" fill="none" stroke="#e0452f" stroke-width="0.95"/>
<text x="301.95" y="246.7" font-size="4.3" text-anchor="start" font-weight="normal" fill="#000" textLength="4.9" lengthAdjust="spacingAndGlyphs" stroke="#000" stroke-width="0.1">5D</text>
<text x="325.3" y="246.7" font-size="4.3" text-anchor="start" font-weight="normal" fill="#000" textLength="6.8" lengthAdjust="spacingAndGlyphs" stroke="#000" stroke-width="0.1">15D</text>
<text x="298.75" y="261.5" font-size="4.3" text-anchor="start" font-weight="normal" fill="#000" textLength="6.5" lengthAdjust="spacingAndGlyphs" stroke="#000" stroke-width="0.1">874</text>
<text x="315.1" y="261.5" font-size="4.3" text-anchor="start" font-weight="normal" fill="#000" textLength="6.4" lengthAdjust="spacingAndGlyphs" stroke="#000" stroke-width="0.1">254</text>
<text x="331.9" y="261.5" font-size="4.3" text-anchor="start" font-weight="normal" fill="#000" textLength="6.4" lengthAdjust="spacingAndGlyphs" stroke="#000" stroke-width="0.1">145</text>
<text x="313.45" y="271.1" font-size="4.3" text-anchor="start" font-weight="normal" fill="#000" textLength="9.1" lengthAdjust="spacingAndGlyphs" stroke="#000" stroke-width="0.1">1926</text>
<text x="302.85" y="279.3" font-size="4.3" text-anchor="start" font-weight="normal" fill="#000" textLength="9.1" lengthAdjust="spacingAndGlyphs" stroke="#000" stroke-width="0.1">1668</text>
<text x="327.4" y="279.3" font-size="4.3" text-anchor="start" font-weight="normal" fill="#000" textLength="6.2" lengthAdjust="spacingAndGlyphs" stroke="#000" stroke-width="0.1">159</text>
<text x="313.1" y="288" font-size="4.3" text-anchor="start" font-weight="normal" fill="#000" textLength="9" lengthAdjust="spacingAndGlyphs" stroke="#000" stroke-width="0.1">1556</text>
<text x="314.3" y="303" font-size="4.3" text-anchor="start" font-weight="normal" fill="#000" textLength="7.2" lengthAdjust="spacingAndGlyphs" stroke="#000" stroke-width="0.1">30D</text>
</g>
<g id="labels">
<text x="3.8" y="7.05" font-size="6.4" text-anchor="start" font-weight="bold" fill="#000">A</text>
<text x="113.8" y="7.05" font-size="6.4" text-anchor="start" font-weight="bold" fill="#000">B</text>
<text x="227.5" y="7.05" font-size="6.4" text-anchor="start" font-weight="bold" fill="#000">C</text>
<text x="3.1" y="101.05" font-size="6.4" text-anchor="start" font-weight="bold" fill="#000">D</text>
<text x="171.4" y="101.05" font-size="6.4" text-anchor="start" font-weight="bold" fill="#000">E</text>
<text x="2.8" y="235.8" font-size="6.4" text-anchor="start" font-weight="bold" fill="#000">F</text>
<text x="170.1" y="236" font-size="6.4" text-anchor="start" font-weight="bold" fill="#000">G</text>
</g>
</svg>
</body></html>
